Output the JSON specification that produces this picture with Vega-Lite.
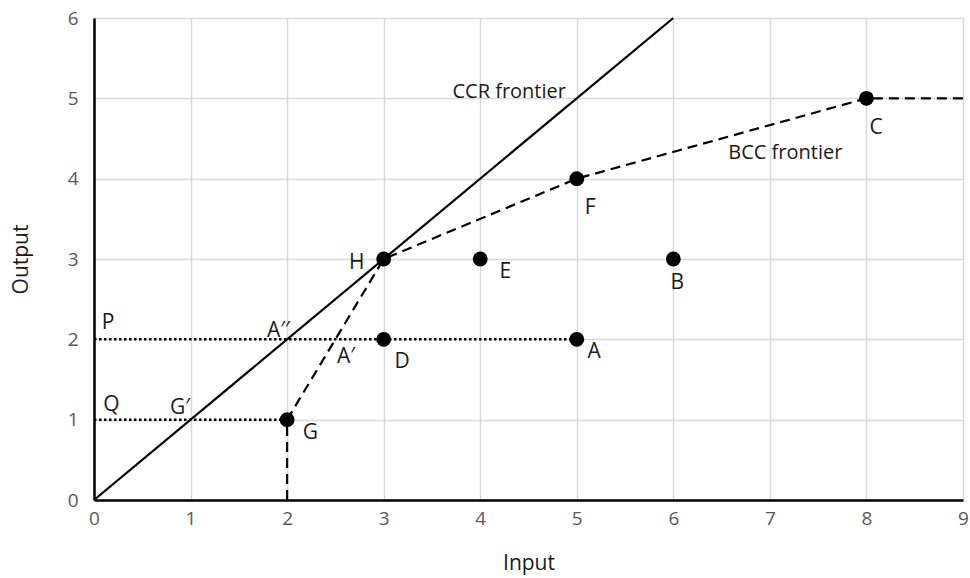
{
  "$schema": "https://vega.github.io/schema/vega-lite/v6.json",
  "width": 869,
  "height": 482,
  "autosize": "none",
  "padding": {"left": 94, "top": 18, "right": 7, "bottom": 78},
  "background": "white",
  "config": {
    "view": {"stroke": null},
    "font": "Open Sans",
    "axis": {
      "labelFont": "Open Sans",
      "titleFont": "Open Sans",
      "labelFontSize": 19,
      "labelColor": "#595959",
      "labelFlush": false,
      "titleFontSize": 21,
      "titleFontWeight": "normal",
      "titleColor": "#1a1a1a",
      "gridColor": "#d9d9d9",
      "gridWidth": 1.5,
      "domainColor": "#000000",
      "domainWidth": 2.5,
      "ticks": false
    }
  },
  "datasets": {
    "lines": [
      {"s": "CCR", "x": 0, "y": 0, "o": 1},
      {"s": "CCR", "x": 6, "y": 6, "o": 2},
      {"s": "BCC", "x": 2, "y": 0, "o": 1},
      {"s": "BCC", "x": 2, "y": 1, "o": 2},
      {"s": "BCC", "x": 3, "y": 3, "o": 3},
      {"s": "BCC", "x": 5, "y": 4, "o": 4},
      {"s": "BCC", "x": 8, "y": 5, "o": 5},
      {"s": "BCC", "x": 9, "y": 5, "o": 6},
      {"s": "P", "x": 0, "y": 2, "o": 1},
      {"s": "P", "x": 5, "y": 2, "o": 2},
      {"s": "Q", "x": 0, "y": 1, "o": 1},
      {"s": "Q", "x": 2, "y": 1, "o": 2}
    ],
    "points": [
      {"name": "H", "x": 3, "y": 3},
      {"name": "E", "x": 4, "y": 3},
      {"name": "F", "x": 5, "y": 4},
      {"name": "C", "x": 8, "y": 5},
      {"name": "B", "x": 6, "y": 3},
      {"name": "D", "x": 3, "y": 2},
      {"name": "A", "x": 5, "y": 2},
      {"name": "G", "x": 2, "y": 1}
    ],
    "labels": [
      {"t": "H", "x": 2.72, "y": 2.95, "size": 21},
      {"t": "E", "x": 4.26, "y": 2.84, "size": 21},
      {"t": "F", "x": 5.14, "y": 3.63, "size": 21},
      {"t": "C", "x": 8.1, "y": 4.63, "size": 21},
      {"t": "B", "x": 6.04, "y": 2.7, "size": 21},
      {"t": "D", "x": 3.19, "y": 1.72, "size": 21},
      {"t": "A", "x": 5.18, "y": 1.84, "size": 21},
      {"t": "G", "x": 2.24, "y": 0.83, "size": 21},
      {"t": "A′", "x": 2.61, "y": 1.78, "size": 21},
      {"t": "A′′", "x": 1.91, "y": 2.1, "size": 21},
      {"t": "G′", "x": 0.89, "y": 1.15, "size": 21},
      {"t": "P", "x": 0.145, "y": 2.2, "size": 21},
      {"t": "Q", "x": 0.18, "y": 1.18, "size": 21},
      {"t": "CCR frontier", "x": 4.3, "y": 5.08, "size": 20},
      {"t": "BCC frontier", "x": 7.16, "y": 4.32, "size": 20}
    ]
  },
  "encoding": {
    "x": {"field": "x", "type": "quantitative", "scale": {"domain": [0, 9], "nice": false}, "axis": {"values": [0,1,2,3,4,5,6,7,8,9], "title": "Input", "labelPadding": 9, "titlePadding": 24}},
    "y": {"field": "y", "type": "quantitative", "scale": {"domain": [0, 6], "nice": false}, "axis": {"values": [0,1,2,3,4,5,6], "title": "Output", "labelPadding": 16, "titlePadding": 36}}
  },
  "layer": [
    {
      "data": {"name": "lines"},
      "transform": [{"filter": "datum.s === 'CCR'"}],
      "mark": {"type": "line", "color": "#000000", "strokeWidth": 2.2},
      "encoding": {"order": {"field": "o"}}
    },
    {
      "data": {"name": "lines"},
      "transform": [{"filter": "datum.s === 'BCC'"}],
      "mark": {"type": "line", "color": "#000000", "strokeWidth": 2.2, "strokeDash": [10, 6]},
      "encoding": {"order": {"field": "o"}}
    },
    {
      "data": {"name": "lines"},
      "transform": [{"filter": "datum.s === 'P' || datum.s === 'Q'"}],
      "mark": {"type": "line", "color": "#000000", "strokeWidth": 2.5, "strokeDash": [2.5, 2.5]},
      "encoding": {"detail": {"field": "s"}, "order": {"field": "o"}}
    },
    {
      "data": {"name": "points"},
      "mark": {"type": "point", "shape": "circle", "filled": true, "color": "#000000", "opacity": 1, "size": 220}
    },
    {
      "data": {"name": "labels"},
      "mark": {"type": "text", "color": "#1a1a1a", "align": "center", "baseline": "middle", "font": "Open Sans"},
      "encoding": {"text": {"field": "t"}, "size": {"field": "size", "type": "quantitative", "scale": null}}
    }
  ]
}
